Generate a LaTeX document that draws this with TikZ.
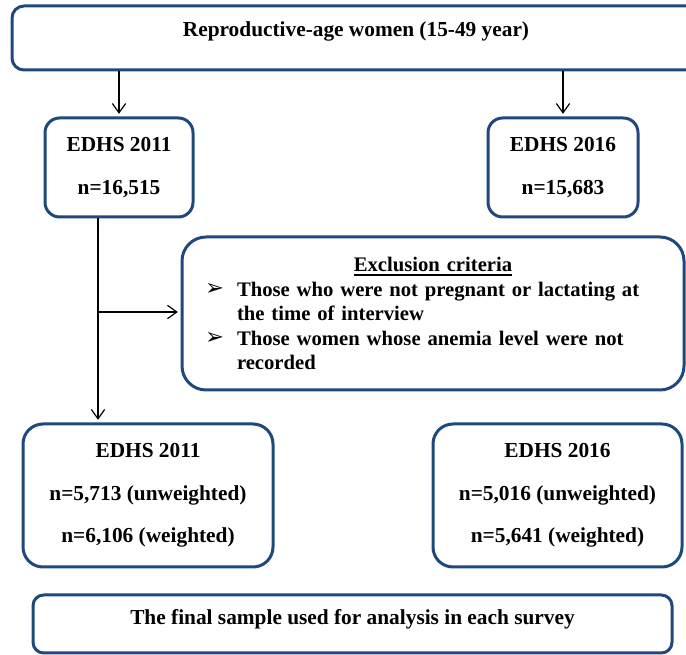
\documentclass[tikz,border=0pt]{standalone}
\usepackage{fontspec}
\setmainfont{Liberation Serif}
\newfontfamily\dingfont{DejaVu Sans}
\usetikzlibrary{arrows.meta, positioning}

\definecolor{boxblue}{RGB}{31,73,125}
% padding below the last line, lifts the text in its box
\newcommand{\lowpad}[1]{\rule[-#1]{0pt}{#1}}
% heading with a heavier underline
\newcommand{\headul}[1]{\setbox0\hbox{#1}\rlap{\rule[-3.5pt]{\wd0}{1.3pt}}\box0}
% one exclusion item with a hanging indent
\newcommand{\critem}[1]{\par\noindent\hangindent=24pt\hangafter=1%
    \makebox[24pt][l]{\raisebox{0.5pt}{\dingfont\fontsize{17}{17}\selectfont ➢}}#1\par}

\begin{document}
\begin{tikzpicture}[
    x=0.75pt, y=-0.75pt,
    box/.style={
        draw=boxblue, line width=2.25pt, rounded corners=11pt,
        align=center, inner sep=0pt,
        font=\bfseries\fontsize{16}{18}\selectfont
    },
    arr/.style={-{Straight Barb[length=7pt,width=10pt]}, line width=0.9pt, shorten >=2pt}
]
\useasboundingbox (0,0) rectangle (686,655);

% Nodes
\node[box, rounded corners=9pt, minimum width=516pt, minimum height=48pt]
    (women) at (356,38) {Reproductive-age women (15-49 year)\lowpad{14pt}};
\node[box, minimum width=111pt, minimum height=74.25pt]
    (e11a) at (119,167.5) {EDHS 2011\\[14.25pt]n=16,515};
\node[box, minimum width=112.5pt, minimum height=74.25pt]
    (e16a) at (563,167.5) {EDHS 2016\\[14.25pt]n=15,683};
\node[box, rounded corners=18pt, minimum width=376.5pt, minimum height=114.75pt,
      text width=342pt, inner xsep=17.25pt, align=left,
      font=\bfseries\fontsize{15.5}{18.4}\selectfont]
    (excl) at (433,313.5) {%
    {\centering\headul{Exclusion criteria}\par}
    \critem{Those who were not pregnant or lactating at\newline the time of interview}
    \critem{Those women whose anemia level were not\newline recorded}};
\node[box, rounded corners=15pt, minimum width=187.5pt, minimum height=107.25pt]
    (e11b) at (148,495.5) {EDHS 2011\\[13.9pt]n=5,713 (unweighted)\\[13.9pt]n=6,106 (weighted)};
\node[box, rounded corners=15pt, minimum width=186.75pt, minimum height=107.25pt]
    (e16b) at (557.5,495.5) {EDHS 2016\\[13.9pt]n=5,016 (unweighted)\\[13.9pt]n=5,641 (weighted)};
\node[box, rounded corners=8pt, minimum width=479.25pt, minimum height=43.5pt]
    (final) at (352.5,624) {The final sample used for analysis in each survey\lowpad{11pt}};

% Arrows
\coordinate (split) at (98,312);
\draw[arr] (women.south -| e11a) -- (e11a.north);
\draw[arr] (women.south -| e16a) -- (e16a.north);
\draw[arr] (e11a.south -| split) -- (e11b.north -| split);
\draw[arr] (split) -- (split -| excl.west);

\end{tikzpicture}
\end{document}
